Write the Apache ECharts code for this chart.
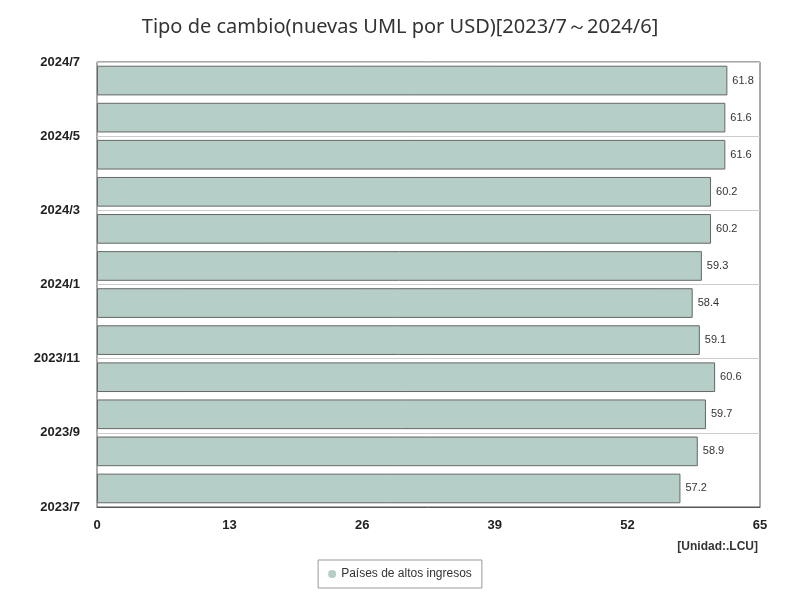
<!DOCTYPE html>
<html><head><meta charset="utf-8">
<script src="https://cdn.jsdelivr.net/npm/echarts@6/dist/echarts.min.js"></script>
<style>html,body{margin:0;padding:0;background:#fff}#c{width:800px;height:600px}</style>
</head><body><div id="c"></div>
<script>
const categories = ["2023/7","2023/8","2023/9","2023/10","2023/11","2023/12","2024/1","2024/2","2024/3","2024/4","2024/5","2024/6"];
const values = [57.2,58.9,59.7,60.6,59.1,58.4,59.3,60.2,60.2,61.6,61.6,61.8];
const tickLabels = ["2023/7","2023/9","2023/11","2024/1","2024/3","2024/5","2024/7"];
const chart = echarts.init(document.getElementById('c'));
chart.setOption({
  animation:false,
  title:{text:"Tipo de cambio(nuevas UML por USD)[2023/7～2024/6]",left:'center',top:12,textStyle:{fontSize:20,fontWeight:'normal',color:'#333',fontFamily:'Noto Sans'}},
  grid:{left:97,right:40,top:62,bottom:93,show:true,borderColor:'#555',borderWidth:1},
  legend:{bottom:12,left:'center',data:['Países de altos ingresos'],icon:'circle',itemWidth:8,itemHeight:8,
    itemStyle:{borderWidth:0},
    borderColor:'#999',borderWidth:1,padding:[8,10],textStyle:{fontSize:12,color:'#333'}},
  graphic:[{type:'text',right:42,top:541,style:{text:'[Unidad:.LCU]',font:'bold 12px sans-serif',fill:'#333'}}],
  xAxis:{type:'value',min:0,max:65,interval:13,splitLine:{show:false},axisLine:{show:true,lineStyle:{color:'#555'}},
    axisTick:{show:false},axisLabel:{fontWeight:'bold',fontSize:13,color:'#222',margin:12}},
  yAxis:[
    {type:'category',data:categories,axisLabel:{show:false},axisTick:{show:false},axisLine:{show:false}},
    {type:'value',position:'left',min:0,max:12,interval:2,
     axisLabel:{formatter:v=>tickLabels[v/2],fontWeight:'bold',fontSize:13,color:'#222',margin:17},
     axisLine:{show:false},axisTick:{show:false},splitLine:{show:true,lineStyle:{color:'#ccc'}}}
  ],
  series:[{name:'Países de altos ingresos',type:'bar',yAxisIndex:0,data:values,barCategoryGap:'20%',
    itemStyle:{color:'#b5cec7',borderColor:'#666',borderWidth:1},
    label:{show:true,position:'right',fontSize:11,color:'#333'}}]
});
</script></body></html>
